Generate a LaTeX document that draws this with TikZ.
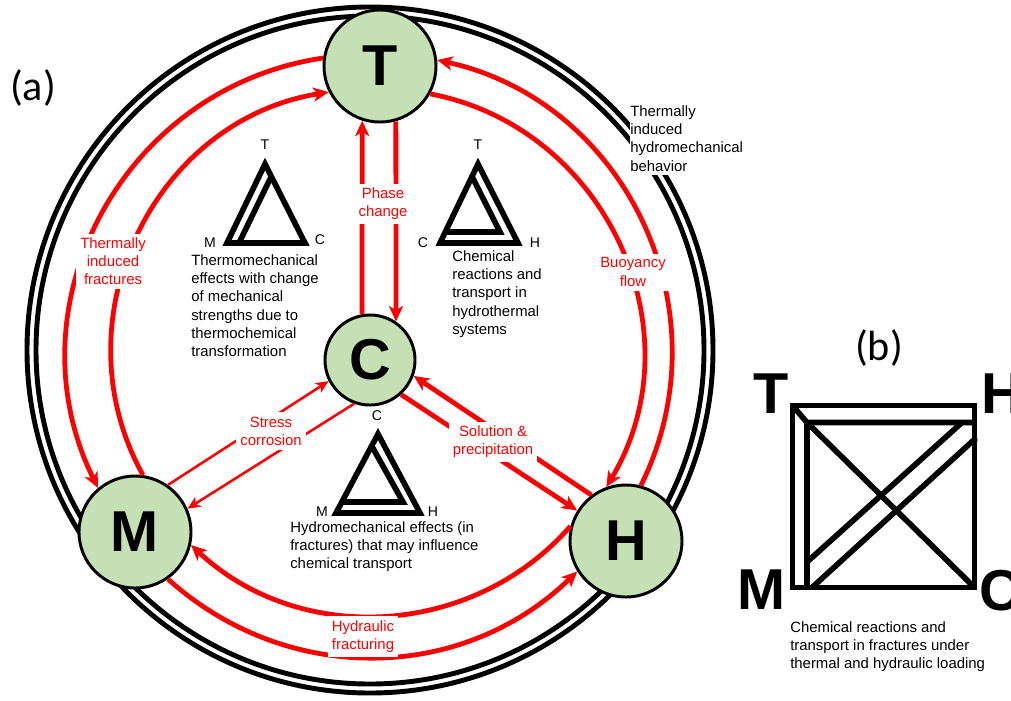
\documentclass[tikz,border=0pt]{standalone}
\usepackage{fontspec}
\setmainfont{Liberation Sans}
\newfontfamily\calibri{Carlito}
\usetikzlibrary{arrows.meta}
\definecolor{nodegreen}{RGB}{197,224,180}

\begin{document}
\begin{tikzpicture}[x=0.025cm, y=-0.025cm, >={Stealth[length=11pt,width=10pt,inset=3pt]}]
	\tikzset{state/.style={draw, circle, line width=2.1pt, fill=nodegreen, inner sep=0pt,
			minimum size=2.8cm, font=\fontsize{41}{41}\selectfont\bfseries},
		smallstate/.style={state, minimum size=2.25cm},
		rarrow/.style={draw=red, line width=3.4pt, ->},
		tarrow/.style={draw=red, line width=1.8pt, -{Stealth[length=9pt,width=8pt,inset=2.5pt]}},
		rlabel/.style={fill=white, text=red, align=center, inner sep=3pt,
			font=\fontsize{10.6}{12.9}\selectfont},
		note/.style={align=left, inner sep=0pt, anchor=north west,
			font=\fontsize{10.6}{12.9}\selectfont},
		tri/.style={line width=4pt},
		corner/.style={inner sep=0pt, font=\fontsize{10}{12}\selectfont},
		bigletter/.style={inner sep=0pt, font=\fontsize{41}{41}\selectfont\bfseries},
		panel/.style={inner sep=0pt, font=\calibri\fontsize{30}{30}\selectfont},
	}
	\useasboundingbox (0,0) rectangle (1011,700);

	% (a) outer double ring
	\draw[line width=3.5pt] (370,350) circle[radius=343];
	\draw[line width=3.5pt] (370,350) circle[radius=334];

	\node [state] (T) at (380,66) {T};
	\node [smallstate] (C) at (370,360) {C};
	\node [state] (M) at (135,532) {M};
	\node [state] (H) at (626,541) {H};

	% coupling arrows
	\draw[rarrow] (T.172) to[bend right=54, looseness=1.07] (M.130);
	\draw[rarrow] (M.82) to[bend left=55, looseness=1.07] (T.207);
	\draw[rarrow] (H.75) to[bend right=52, looseness=1.05] (T.6);
	\draw[rarrow] (T.331) to[bend left=55, looseness=1.07] (H.110);
	\draw[rarrow] (M.305) to[bend right=43] (H.212);
	\draw[rarrow] (H.165) to[bend left=46] (M.347);
	\draw[rarrow] (C.100) -- (T.252);
	\draw[rarrow] (T.286) -- (C.56);
	\draw[tarrow] (M.55) -- (C.207);
	\draw[tarrow] (C.250) -- (M.24);
	\draw[rarrow] (H.127) -- (C.340);
	\draw[rarrow] (C.312) -- (H.148);

	\node [rlabel] (tif) at (113,261.5) {Thermally\\induced\\fractures};
	\node [rlabel] (pc) at (383,204) {Phase\\change};
	\node [rlabel] (bf) at (633,272) {Buoyancy\\flow};
	\node [rlabel] (sc) at (271,431) {Stress\\corrosion};
	\node [rlabel] (sp) at (493,442) {Solution \&\\precipitation};
	\node [rlabel] (hf) at (363,636.5) {Hydraulic\\fracturing};

	% small triangles
	\draw[tri] (265,164) -- (305,243) -- (227,243) -- cycle;
	\draw[tri] (271.3,176.4) -- (239,243);
	\node [corner] (t1T) at (265,145) {T};
	\node [corner] (t1M) at (210,243) {M};
	\node [corner] (t1C) at (320,240) {C};

	\draw[tri] (478,164) -- (518,243) -- (440,243) -- cycle;
	\draw[tri] (472,176.5) -- (500,232) -- (445,232);
	\node [corner] (t2T) at (478,145) {T};
	\node [corner] (t2C) at (423,243) {C};
	\node [corner] (t2H) at (535,243) {H};

	\draw[tri] (378,434) -- (420,513) -- (336,513) -- cycle;
	\draw[tri] (372,446.5) -- (403,502) -- (342,502);
	\node [corner] (t3C) at (377,416) {C};
	\node [corner] (t3M) at (322,512) {M};
	\node [corner] (t3H) at (433,512) {H};

	\node [note] (tmtext) at (191,254.6) {Thermomechanical\\effects with change\\of mechanical\\strengths due to\\thermochemical\\transformation};
	\node [note] (thtext) at (452,250.6) {Chemical\\reactions and\\transport in\\hydrothermal\\systems};
	\node [note] (hmtext) at (290,521.6) {Hydromechanical effects (in\\fractures) that may influence\\chemical transport};
	\node [note, fill=white, inner ysep=3pt] (thmtext) at (630,101.4) {Thermally\\induced\\hydromechanical\\behavior};

	\node [panel] (pa) at (33,88) {(a)};

	% (b) square
	\node [panel] (pb) at (879,348) {(b)};
	\draw[tri] (792.5,405.5) rectangle (974.5,587.5);
	\draw[tri] (792.5,405.5) -- (807,422.5) -- (974.5,422.5);
	\draw[tri] (807,422.5) -- (807,587.5);
	\draw[tri] (807,422.5) -- (974.5,587.5);
	\draw[tri] (807,562) -- (962,422.5);
	\draw[tri] (812,587.5) -- (976,438);
	\node [bigletter] (bT) at (771,394) {T};
	\node [bigletter] (bH) at (1002,394) {H};
	\node [bigletter] (bM) at (762,590) {M};
	\node [bigletter] (bC) at (1000,591) {C};
	\node [note] (btext) at (790,621.6) {Chemical reactions and\\transport in fractures under\\thermal and hydraulic loading};
\end{tikzpicture}
\end{document}
